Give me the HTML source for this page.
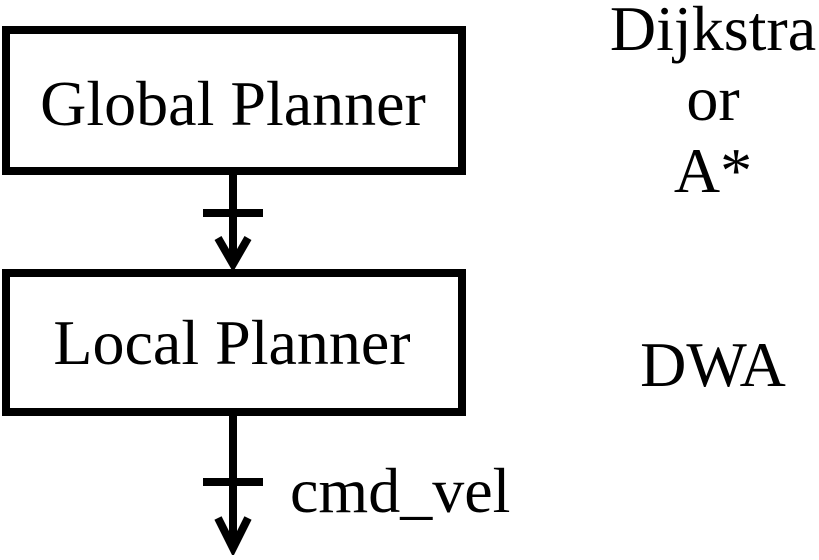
<!DOCTYPE html>
<html><head><style>
html,body{margin:0;padding:0;background:#fff;}
</style></head><body>
<svg width="819" height="555" viewBox="0 0 819 555" xmlns="http://www.w3.org/2000/svg">
<g fill="none" stroke="#000" stroke-width="8">
<rect x="6" y="30" width="456" height="141"/>
<rect x="6" y="273" width="456" height="139"/>
<line x1="233" y1="171" x2="233" y2="264"/>
<line x1="203" y1="213" x2="263" y2="213"/>
<polyline points="218,238 233,264 248,238" stroke-linejoin="miter"/>
<line x1="233" y1="412" x2="233" y2="548"/>
<line x1="203" y1="482" x2="263" y2="482"/>
<polyline points="218,518 233,548 248,518"/>
</g>
<g font-family="Liberation Serif, serif" font-size="64" fill="#000">
<text x="233" y="125" text-anchor="middle">Global Planner</text>
<text x="232" y="364" text-anchor="middle">Local Planner</text>
<text x="290" y="512">cmd_vel</text>
<text x="713" y="50" text-anchor="middle">Dijkstra</text>
<text x="713" y="120" text-anchor="middle">or</text>
<text x="713" y="192" text-anchor="middle">A*</text>
<text x="713" y="386" text-anchor="middle">DWA</text>
</g>
</svg>
</body></html>
